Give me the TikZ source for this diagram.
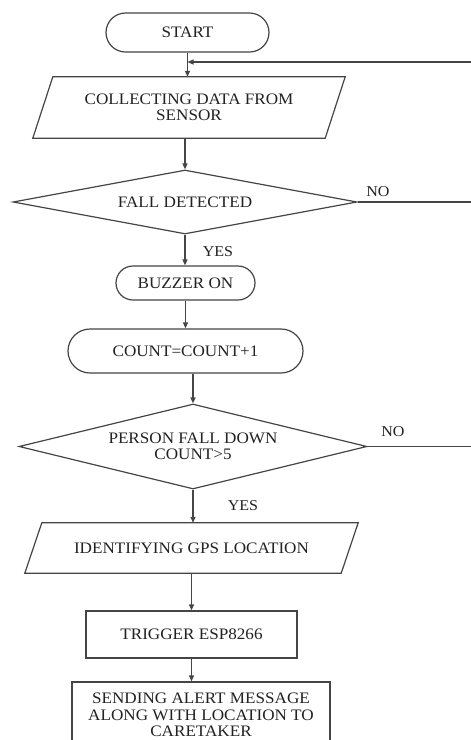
\documentclass[tikz,border=0pt]{standalone}
\usepackage{fontspec}
\setmainfont[FakeStretch=1.07]{Liberation Serif}
\usetikzlibrary{arrows.meta,shapes.geometric}
\definecolor{ln}{HTML}{454545}
\definecolor{tx}{HTML}{222222}
\begin{document}
\begin{tikzpicture}[x=1pt,y=-1pt,
  txt/.style={inner sep=0pt, align=center, text=tx, font=\fontsize{16}{16.5}\selectfont},
  box/.style={txt, draw=ln, line width=1.2pt},
  dia/.style={box, diamond},
  outline/.style={draw=ln, line width=1.2pt},
  arr/.style={draw=ln, line width=1.2pt, -{Triangle[length=6pt,width=5pt]}},
  lbl/.style={inner sep=0pt, text=tx, font=\fontsize{15}{15}\selectfont}
]
\useasboundingbox (0,0) rectangle (471,740);
\clip (0,0) rectangle (471,740);
\fill[white] (0,0) rectangle (471,740);

% nodes
\node[box, rectangle, rounded corners=19.5pt, minimum width=163, minimum height=39] (start) at (187.5,32.5) {START};
\node[txt, minimum width=312, minimum height=61] (col) at (189,107.5) {COLLECTING DATA FROM\\SENSOR};
\draw[outline] ([xshift=20pt]col.north west) -- (col.north east) -- ([xshift=-20pt]col.south east) -- (col.south west) -- cycle;
\node[dia, aspect=5.375, minimum width=344, minimum height=64] (d1) at (185,202) {FALL DETECTED};
\node[box, rectangle, rounded corners=17pt, minimum width=139, minimum height=34] (buzz) at (185.5,283) {BUZZER ON};
\node[box, rectangle, rounded corners=22pt, minimum width=235, minimum height=44] (count) at (185.5,351) {COUNT=COUNT+1};
\node[dia, aspect=4.09, minimum width=348, minimum height=85] (d2) at (193,446.5) {PERSON FALL DOWN\\COUNT>5};
\node[txt, minimum width=333, minimum height=50] (ident) at (191.5,548) {IDENTIFYING GPS LOCATION};
\draw[outline] ([xshift=17pt]ident.north west) -- (ident.north east) -- ([xshift=-17pt]ident.south east) -- (ident.south west) -- cycle;
\node[box, rectangle, minimum width=211, minimum height=47] (trig) at (191.5,634.5) {TRIGGER ESP8266};
\node[box, rectangle, minimum width=258, minimum height=66] (send) at (201,715) {SENDING ALERT MESSAGE\\ALONG WITH LOCATION TO\\CARETAKER};

% labels
\node[lbl] (no1) at (378,192) {NO};
\node[lbl] (yes1) at (218,252) {YES};
\node[lbl] (no2) at (393,432) {NO};
\node[lbl] (yes2) at (243,506) {YES};

% edge coordinates
\coordinate (r0) at (471,62);

% connectors
\draw[arr] (start.south) -- (col.north -| start.south);
\draw[arr] (r0) -- (r0 -| start.south);
\draw[arr] (col.south -| d1.north) -- (d1.north);
\draw[outline] (d1.east) -- (d1.east -| r0);
\draw[arr] (d1.south) -- (buzz.north -| d1.south);
\draw[arr] (buzz.south) -- (count.north -| buzz.south);
\draw[arr] (count.south -| d2.north) -- (d2.north);
\draw[outline] (d2.east) -- (d2.east -| r0);
\draw[arr] (d2.south) -- (ident.north -| d2.south);
\draw[arr] (ident.south -| trig.north) -- (trig.north);
\draw[arr] (trig.south) -- (send.north -| trig.south);
\end{tikzpicture}
\end{document}
